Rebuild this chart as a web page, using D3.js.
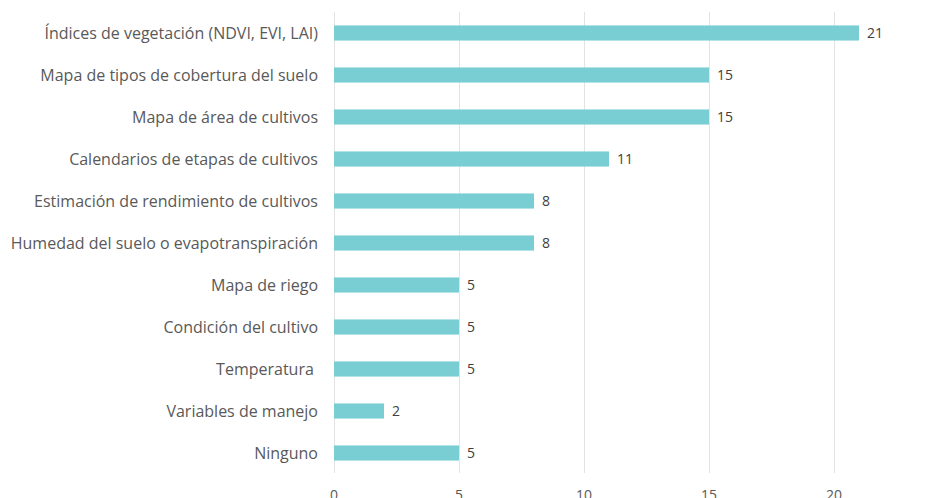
<!DOCTYPE html>
<html>
<head>
<meta charset="utf-8">
<script src="https://cdn.jsdelivr.net/npm/d3@7"></script>
<style>
  body { margin: 0; background: #fff; }
  svg { display: block; font-family: "Open Sans", sans-serif; }
  .cat-label { white-space: pre; }
</style>
</head>
<body>
<svg id="chart" width="947" height="498"></svg>
<script>
const categories = [
  "Índices de vegetación (NDVI, EVI, LAI)",
  "Mapa de tipos de cobertura del suelo",
  "Mapa de área de cultivos",
  "Calendarios de etapas de cultivos",
  "Estimación de rendimiento de cultivos",
  "Humedad del suelo o evapotranspiración",
  "Mapa de riego",
  "Condición del cultivo",
  "Temperatura ",
  "Variables de manejo",
  "Ninguno"
];
const values = [21, 15, 15, 11, 8, 8, 5, 5, 5, 2, 5];
const ticks = [0, 5, 10, 15, 20];

const data = categories.map((c, i) => ({ category: c, value: values[i] }));

const svg = d3.select("#chart");
const PLOT_LEFT = 334, PLOT_RIGHT = 859, PLOT_TOP = 12, PLOT_BOTTOM = 474;

const x = d3.scaleLinear().domain([0, 21]).range([PLOT_LEFT, PLOT_RIGHT]);
const y = d3.scaleBand()
  .domain(categories)
  .range([PLOT_TOP, PLOT_BOTTOM])
  .paddingInner(0.64)
  .paddingOuter(0.32);

// gridlines
svg.append("g")
  .selectAll("line")
  .data(ticks)
  .enter()
  .append("line")
  .attr("x1", d => x(d) + 0.5)
  .attr("x2", d => x(d) + 0.5)
  .attr("y1", 12)
  .attr("y2", 473)
  .attr("stroke", "#e3e3e3")
  .attr("stroke-width", 1);

// tick labels (cut at the bottom edge, as in the source)
svg.append("g")
  .selectAll("text")
  .data(ticks)
  .enter()
  .append("text")
  .attr("x", d => x(d))
  .attr("y", 500)
  .attr("text-anchor", "middle")
  .attr("font-size", 14)
  .attr("fill", "#595959")
  .text(d => d);

// bars
svg.append("g")
  .selectAll("rect")
  .data(data)
  .enter()
  .append("rect")
  .attr("x", x(0))
  .attr("y", d => y(d.category))
  .attr("width", d => x(d.value) - x(0))
  .attr("height", y.bandwidth())
  .attr("fill", "#78ced2");

// value labels
svg.append("g")
  .selectAll("text")
  .data(data)
  .enter()
  .append("text")
  .attr("x", d => x(d.value) + 8)
  .attr("y", d => y(d.category) + y.bandwidth() / 2)
  .attr("dy", "0.35em")
  .attr("font-size", 14)
  .attr("fill", "#404040")
  .text(d => d.value);

// category labels
svg.append("g")
  .selectAll("text")
  .data(data)
  .enter()
  .append("text")
  .classed("cat-label", true)
  .attr("x", 318)
  .attr("y", d => y(d.category) + y.bandwidth() / 2)
  .attr("dy", "0.35em")
  .attr("text-anchor", "end")
  .attr("font-size", 16)
  .attr("fill", "#595959")
  .text(d => d.category);
</script>
</body>
</html>
